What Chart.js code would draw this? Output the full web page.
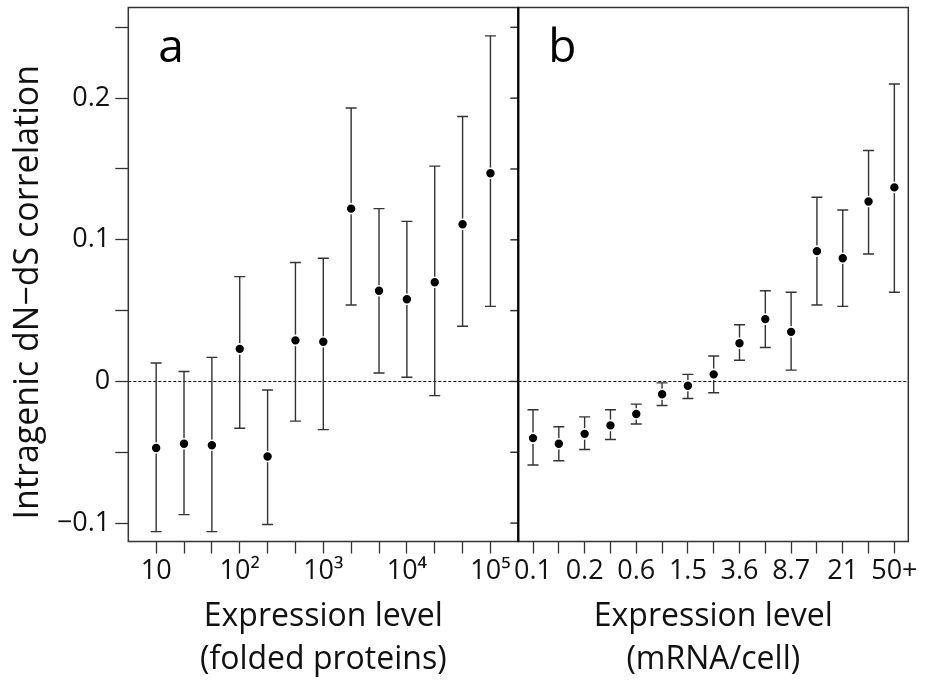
<!DOCTYPE html>
<html>
<head>
<meta charset="utf-8">
<script src="https://cdn.jsdelivr.net/npm/chart.js@4/dist/chart.umd.min.js"></script>
<style>
  html, body { margin: 0; padding: 0; background: #fff; }
  #wrap { position: relative; width: 932px; height: 683px; }
  #wrap canvas { position: absolute; left: 0; top: 0; }
</style>
</head>
<body>
<div id="wrap">
  <canvas id="chartA" width="932" height="683"></canvas>
  <canvas id="chartB" width="932" height="683"></canvas>
</div>
<script>
// panel a: folded proteins, 13 bins (1/3 decade each)
var labelsA = ['10', '', '', '10²', '', '', '10³', '', '', '10⁴', '', '', '10⁵'];
var meanA = [-0.047, -0.044, -0.045, 0.023, -0.053, 0.029, 0.028, 0.122, 0.064, 0.058, 0.070, 0.111, 0.147];
var lowA  = [-0.106, -0.094, -0.106, -0.033, -0.101, -0.028, -0.034, 0.054, 0.006, 0.003, -0.010, 0.039, 0.053];
var highA = [0.013, 0.007, 0.017, 0.074, -0.006, 0.084, 0.087, 0.193, 0.122, 0.113, 0.152, 0.187, 0.244];

// panel b: mRNA per cell, 15 bins
var labelsB = ['0.1', '', '0.2', '', '0.6', '', '1.5', '', '3.6', '', '8.7', '', '21', '', '50+'];
var meanB = [-0.040, -0.044, -0.037, -0.031, -0.023, -0.009, -0.003, 0.005, 0.027, 0.044, 0.035, 0.092, 0.087, 0.127, 0.137];
var lowB  = [-0.059, -0.056, -0.048, -0.041, -0.030, -0.017, -0.012, -0.008, 0.015, 0.024, 0.008, 0.054, 0.053, 0.090, 0.063];
var highB = [-0.020, -0.032, -0.025, -0.020, -0.016, -0.001, 0.005, 0.018, 0.040, 0.064, 0.063, 0.130, 0.121, 0.163, 0.210];

var yMin = -0.113, yMax = 0.264;
var yTitle = 'Intragenic dN\u2212dS correlation\u00a0\u00a0\u00a0\u00a0';
var xTitleA = ['Expression level', '(folded proteins)'];
var xTitleB = ['Expression level', '(mRNA/cell)'];

var INK = '#111';
var LINE = '#333';
var FONT = "'Open Sans'";
Chart.defaults.font.family = FONT;
Chart.defaults.color = INK;

function toPoints(vals) {
  return vals.map(function (v, i) { return { x: i + 1, y: v }; });
}

var panelPlugin = {
  id: 'panel',
  beforeDatasetsDraw: function (chart, args, opts) {
    var ctx = chart.ctx, area = chart.chartArea;
    var xs = chart.scales.x, ys = chart.scales.y;
    ctx.save();
    // dashed zero line
    var y0 = Math.round(ys.getPixelForValue(0)) + 0.5;
    ctx.strokeStyle = '#111';
    ctx.lineWidth = 1;
    ctx.setLineDash([3, 2]);
    ctx.beginPath();
    ctx.moveTo(area.left, y0);
    ctx.lineTo(area.right, y0);
    ctx.stroke();
    ctx.setLineDash([]);
    // error bars
    var ds = chart.data.datasets[0];
    ctx.strokeStyle = '#333';
    ctx.lineWidth = 1.4;
    ds.data.forEach(function (p, i) {
      var x = xs.getPixelForValue(p.x);
      var yl = ys.getPixelForValue(ds.lo[i]);
      var yh = ys.getPixelForValue(ds.hi[i]);
      ctx.beginPath();
      ctx.moveTo(x, yl); ctx.lineTo(x, yh);
      ctx.moveTo(x - 5.5, yl); ctx.lineTo(x + 5.5, yl);
      ctx.moveTo(x - 5.5, yh); ctx.lineTo(x + 5.5, yh);
      ctx.stroke();
    });
    ctx.restore();
  },
  afterDraw: function (chart, args, opts) {
    var ctx = chart.ctx, area = chart.chartArea, ys = chart.scales.y;
    ctx.save();
    ctx.strokeStyle = LINE;
    ctx.lineWidth = 1.5;
    ctx.strokeRect(area.left, area.top, area.right - area.left, area.bottom - area.top);
    if (opts.rightTicks) {
      ys.ticks.forEach(function (t) {
        var y = ys.getPixelForValue(t.value);
        ctx.beginPath();
        ctx.moveTo(area.right - 8, y);
        ctx.lineTo(area.right, y);
        ctx.stroke();
      });
    }
    if (opts.thickLeft) {
      ctx.strokeStyle = '#000';
      ctx.lineWidth = 2.2;
      ctx.beginPath();
      ctx.moveTo(area.left, area.top);
      ctx.lineTo(area.left, area.bottom);
      ctx.stroke();
    }
    ctx.fillStyle = '#000';
    ctx.font = '46px ' + FONT;
    ctx.textBaseline = 'alphabetic';
    ctx.fillText(opts.letter, area.left + 30, area.top + 54);
    ctx.restore();
  }
};

function xAxis(labels, min, max, title) {
  return {
    type: 'linear',
    min: min,
    max: max,
    afterBuildTicks: function (s) {
      s.ticks = labels.map(function (l, i) { return { value: i + 1 }; });
    },
    afterFit: function (s) {
      s.height = 141.5;
      s.paddingLeft = 0;
      s.paddingRight = 0;
    },
    ticks: {
      autoSkip: false,
      maxRotation: 0,
      padding: 2,
      font: { size: 27 },
      color: INK,
      callback: function (v) { return labels[Math.round(v) - 1]; }
    },
    grid: { drawOnChartArea: false, tickLength: 12, tickColor: LINE, tickWidth: 1.3 },
    border: { display: false },
    title: {
      display: true,
      text: title,
      color: INK,
      font: { size: 32, lineHeight: 1.34 },
      padding: { top: 0, bottom: 2 }
    }
  };
}

function yAxis(show) {
  return {
    display: show,
    min: yMin,
    max: yMax,
    afterFit: function (s) {
      if (show) s.width = 128.3;
      s.paddingTop = 0;
      s.paddingBottom = 0;
    },
    ticks: {
      stepSize: 0.05,
      includeBounds: false,
      padding: 5,
      font: { size: 27 },
      color: INK,
      callback: function (v) {
        var n = Math.round(v * 100);
        if (n % 10 !== 0) return '';
        return n === 0 ? '0' : (n < 0 ? '\u2212' : '') + (Math.abs(n) / 100).toString();
      }
    },
    grid: { drawOnChartArea: false, tickLength: 13, tickColor: LINE, tickWidth: 1.3 },
    border: { display: false },
    title: {
      display: true,
      text: yTitle,
      color: INK,
      font: { size: 34, lineHeight: 1.1 },
      padding: { top: 10, bottom: 0 }
    }
  };
}

function makeChart(id, labels, mean, lo, hi, xmin, xmax, title, pad, showY, panelOpts) {
  return new Chart(document.getElementById(id), {
    type: 'scatter',
    data: {
      datasets: [{
        data: toPoints(mean),
        lo: lo,
        hi: hi,
        pointRadius: 5,
        pointBackgroundColor: '#000',
        pointBorderColor: '#fff',
        pointBorderWidth: 1.6
      }]
    },
    options: {
      responsive: false,
      animation: false,
      layout: { padding: pad },
      scales: { x: xAxis(labels, xmin, xmax, title), y: yAxis(showY) },
      plugins: { legend: { display: false }, tooltip: { enabled: false }, panel: panelOpts }
    },
    plugins: [panelPlugin]
  });
}

makeChart('chartA', labelsA, meanA, lowA, highA, 0, 14, xTitleA,
  { left: 0, right: 932 - 518.3, top: 7.5, bottom: 0 }, true,
  { letter: 'a', rightTicks: true, thickLeft: false });
makeChart('chartB', labelsB, meanB, lowB, highB, 0.43, 15.54, xTitleB,
  { left: 518.3, right: 932 - 908.3, top: 7.5, bottom: 0 }, false,
  { letter: 'b', rightTicks: false, thickLeft: true });
</script>
</body>
</html>
